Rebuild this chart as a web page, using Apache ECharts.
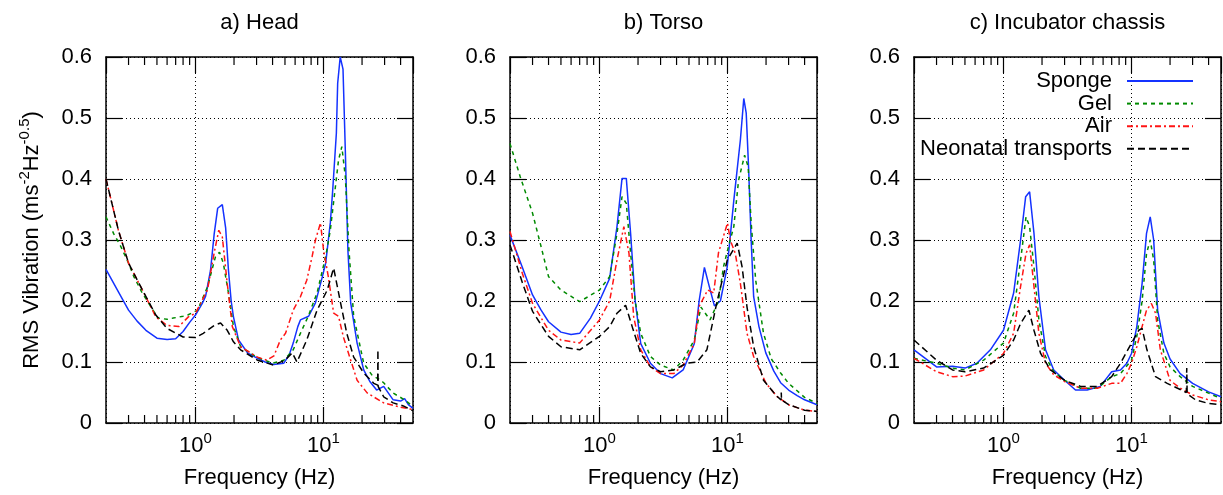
<!DOCTYPE html>
<html>
<head>
<meta charset="utf-8">
<script src="https://cdn.jsdelivr.net/npm/echarts@6/dist/echarts.min.js"></script>
<style>
html,body{margin:0;padding:0;background:#fff;}
#chart{width:1223px;height:495px;}
</style>
</head>
<body>
<div id="chart"></div>
<script>
// ---------- data ----------
const panelTitles = ['a) Head', 'b) Torso', 'c) Incubator chassis'];
const seriesNames = ['Sponge', 'Gel', 'Air', 'Neonatal transports'];
const minorTicks = [0.3,0.4,0.5,0.6,0.7,0.8,0.9,2,3,4,5,6,7,8,9,20,30,40];
const yTicks = [0, 0.1, 0.2, 0.3, 0.4, 0.5, 0.6];

// a) Head  [frequency Hz, RMS vibration]
const headSponge = [[0.2,0.252],[0.25,0.215],[0.3,0.185],[0.35,0.167],[0.41,0.152],[0.5,0.139],[0.6,0.137],[0.7,0.138],[0.8,0.15],[0.9,0.165],[1.0,0.177],[1.13,0.196],[1.2,0.208],[1.31,0.25],[1.4,0.31],[1.49,0.352],[1.62,0.358],[1.72,0.32],[1.81,0.25],[1.9,0.2],[1.98,0.174],[2.17,0.136],[2.55,0.115],[3.05,0.106],[3.5,0.1],[4.07,0.096],[4.9,0.098],[5.4,0.112],[5.8,0.131],[6.3,0.158],[6.6,0.169],[7.65,0.175],[8.65,0.197],[9.8,0.24],[10.4,0.262],[11.3,0.328],[11.8,0.382],[12.6,0.475],[12.9,0.557],[13.5,0.6],[14.2,0.58],[14.8,0.447],[15.5,0.284],[16.3,0.197],[18.3,0.131],[20.6,0.087],[23,0.068],[26,0.054],[29.5,0.06],[35,0.038],[40,0.036],[43,0.04],[46,0.03],[50,0.024]];
const headGel = [[0.2,0.338],[0.23,0.31],[0.26,0.29],[0.3,0.262],[0.33,0.24],[0.38,0.215],[0.42,0.2],[0.51,0.172],[0.6,0.17],[0.67,0.172],[0.8,0.175],[0.87,0.177],[1.04,0.185],[1.24,0.223],[1.43,0.272],[1.54,0.28],[1.65,0.262],[1.81,0.213],[1.98,0.158],[2.25,0.125],[3.0,0.108],[4.0,0.098],[4.9,0.103],[5.8,0.12],[6.6,0.147],[7.6,0.175],[8.9,0.213],[10.4,0.273],[11.3,0.316],[12.3,0.382],[13.1,0.431],[13.9,0.453],[14.4,0.45],[14.8,0.404],[15.8,0.284],[17.2,0.175],[20.6,0.098],[24,0.078],[27,0.072],[29.5,0.066],[35,0.049],[43,0.038],[50,0.027]];
const headAir = [[0.2,0.4],[0.25,0.316],[0.3,0.262],[0.385,0.218],[0.49,0.174],[0.6,0.16],[0.74,0.158],[0.88,0.174],[1.0,0.18],[1.24,0.218],[1.4,0.279],[1.52,0.316],[1.62,0.305],[1.77,0.229],[1.94,0.158],[2.25,0.125],[3.05,0.108],[3.6,0.103],[4.1,0.11],[4.6,0.136],[5.05,0.147],[5.8,0.185],[6.6,0.207],[7.4,0.234],[8.15,0.273],[8.65,0.3],[9.47,0.328],[10,0.284],[10.9,0.24],[12,0.18],[13.1,0.175],[14.3,0.141],[16.3,0.103],[18.3,0.07],[22,0.049],[29.5,0.033],[40,0.026],[50,0.022]];
const headTransport = [[0.2,0.4],[0.25,0.316],[0.3,0.262],[0.385,0.218],[0.49,0.177],[0.6,0.155],[0.8,0.141],[1.0,0.14],[1.15,0.147],[1.4,0.16],[1.57,0.164],[1.77,0.152],[1.98,0.133],[2.25,0.12],[3.05,0.103],[4.07,0.095],[5.0,0.103],[5.7,0.115],[6.2,0.1],[7.4,0.136],[8.9,0.185],[10.7,0.218],[12,0.254],[13.5,0.2],[15.2,0.147],[17.2,0.108],[20.6,0.082],[24.7,0.065],[26.5,0.062],[26.6,0.12],[26.7,0.06],[29.5,0.043],[35,0.033],[42,0.028],[50,0.02]];

// b) Torso
const torsoSponge = [[0.2,0.308],[0.25,0.255],[0.3,0.21],[0.35,0.185],[0.4,0.166],[0.5,0.149],[0.6,0.145],[0.7,0.147],[0.85,0.172],[1.0,0.2],[1.2,0.237],[1.37,0.322],[1.5,0.401],[1.62,0.401],[1.75,0.311],[1.9,0.2],[2.1,0.13],[2.5,0.098],[3.0,0.081],[3.7,0.074],[4.5,0.087],[5.5,0.13],[6.0,0.2],[6.6,0.255],[7.2,0.224],[7.9,0.192],[8.8,0.2],[9.95,0.256],[11.2,0.365],[12.6,0.464],[13.4,0.532],[14.0,0.508],[14.6,0.42],[15.3,0.3],[16,0.207],[17.6,0.158],[19.9,0.115],[23,0.085],[26,0.066],[30,0.054],[35,0.045],[40,0.038],[50,0.03]];
const torsoGel = [[0.2,0.458],[0.24,0.404],[0.3,0.344],[0.35,0.289],[0.4,0.24],[0.5,0.218],[0.7,0.199],[1.0,0.218],[1.2,0.24],[1.37,0.311],[1.5,0.371],[1.62,0.36],[1.75,0.278],[1.9,0.2],[2.1,0.147],[2.5,0.109],[3.0,0.095],[3.8,0.087],[4.5,0.103],[5.5,0.136],[6.2,0.19],[7.3,0.169],[8.5,0.2],[9.3,0.256],[10,0.283],[11.2,0.322],[12.2,0.398],[13.6,0.439],[14.5,0.42],[15.3,0.328],[16.6,0.234],[19.1,0.147],[22,0.105],[26,0.082],[30,0.065],[40,0.042],[50,0.032]];
const torsoAir = [[0.2,0.314],[0.25,0.245],[0.3,0.196],[0.4,0.152],[0.5,0.136],[0.7,0.131],[1.0,0.169],[1.2,0.2],[1.37,0.267],[1.55,0.322],[1.7,0.278],[1.85,0.174],[2.1,0.12],[2.5,0.092],[3.0,0.081],[3.8,0.081],[4.5,0.095],[5.5,0.13],[6.0,0.191],[7.0,0.218],[7.8,0.213],[8.5,0.279],[10,0.328],[10.5,0.3],[11.5,0.278],[12.6,0.229],[14.2,0.147],[16,0.109],[20,0.065],[24.5,0.043],[30,0.03],[40,0.021],[50,0.019]];
const torsoTransport = [[0.2,0.292],[0.25,0.23],[0.3,0.183],[0.4,0.142],[0.5,0.125],[0.7,0.12],[1.0,0.142],[1.2,0.158],[1.37,0.18],[1.6,0.193],[1.8,0.158],[2.1,0.114],[2.5,0.092],[3.0,0.084],[3.8,0.087],[4.8,0.098],[5.8,0.1],[6.9,0.12],[8.3,0.2],[9.95,0.267],[11.9,0.295],[13,0.256],[14.2,0.19],[16,0.125],[19.1,0.07],[24,0.045],[26.2,0.038],[26.3,0.05],[26.4,0.038],[30,0.03],[40,0.021],[50,0.019]];

// c) Incubator chassis
const chassisSponge = [[0.2,0.12],[0.3,0.092],[0.4,0.093],[0.5,0.09],[0.62,0.098],[0.79,0.12],[1.0,0.152],[1.2,0.213],[1.36,0.3],[1.49,0.371],[1.6,0.379],[1.73,0.311],[1.89,0.207],[2.13,0.12],[2.47,0.087],[3.0,0.07],[3.65,0.054],[4.5,0.054],[5.7,0.06],[7.0,0.084],[8.2,0.087],[9.2,0.098],[10,0.114],[11,0.158],[12.1,0.229],[13.1,0.311],[14,0.338],[14.9,0.3],[16,0.185],[17.9,0.131],[20,0.105],[24,0.081],[30,0.065],[40,0.051],[50,0.043]];
const chassisGel = [[0.2,0.106],[0.3,0.098],[0.4,0.09],[0.5,0.087],[0.7,0.103],[1.0,0.131],[1.2,0.18],[1.36,0.267],[1.5,0.338],[1.6,0.322],[1.73,0.256],[1.89,0.169],[2.13,0.109],[2.47,0.084],[3.0,0.07],[4.0,0.057],[5.4,0.057],[7.0,0.076],[8.2,0.081],[10,0.103],[11,0.142],[12.1,0.2],[13.1,0.278],[14,0.3],[14.9,0.267],[16,0.169],[17.9,0.114],[20,0.092],[24,0.076],[30,0.06],[40,0.049],[50,0.04]];
const chassisAir = [[0.2,0.106],[0.3,0.084],[0.4,0.076],[0.5,0.077],[0.7,0.087],[1.0,0.114],[1.2,0.147],[1.36,0.224],[1.5,0.278],[1.6,0.292],[1.73,0.224],[1.89,0.147],[2.13,0.098],[2.47,0.079],[3.0,0.068],[4.0,0.057],[5.4,0.057],[7.0,0.065],[8.2,0.065],[9.2,0.081],[10,0.098],[11,0.125],[12.1,0.158],[13.1,0.185],[14.3,0.196],[15.4,0.18],[16.8,0.12],[20,0.07],[24,0.057],[30,0.046],[40,0.038],[50,0.035]];
const chassisTransport = [[0.2,0.136],[0.3,0.103],[0.4,0.087],[0.5,0.084],[0.7,0.09],[1.0,0.111],[1.2,0.136],[1.36,0.163],[1.58,0.185],[1.73,0.152],[1.95,0.114],[2.33,0.087],[3.0,0.07],[4.0,0.06],[5.4,0.06],[7.0,0.076],[8.2,0.098],[10,0.131],[11.4,0.152],[12.1,0.155],[13.2,0.12],[15.4,0.076],[19,0.065],[24.5,0.054],[26.8,0.05],[27,0.09],[27.2,0.048],[31.6,0.038],[40,0.032],[50,0.03]];

const panelData = [
  [headSponge, headGel, headAir, headTransport],
  [torsoSponge, torsoGel, torsoAir, torsoTransport],
  [chassisSponge, chassisGel, chassisAir, chassisTransport]
];

// ---------- styles ----------
const FONT = 'Liberation Sans, Arial, Helvetica, sans-serif';
const colors = ['#1432ff', '#008a00', '#ff1414', '#000000'];
const dashes = ['solid', [4, 4], [6, 3, 2, 3], [7, 4]];
const gridLefts = [106, 510, 914];
const gridW = 307, gridTop = 57, gridH = 366;

function isPow10(v) {
  const l = Math.log10(v);
  return Math.abs(l - Math.round(l)) < 1e-6;
}

const option = {
  animation: false,
  backgroundColor: '#fff',
  title: [], grid: [], xAxis: [], yAxis: [], series: [],
  legend: {
    data: seriesNames,
    orient: 'vertical',
    align: 'right',
    right: 29,
    top: 70,
    padding: 0,
    itemGap: 0.6,
    itemWidth: 66,
    itemHeight: 12,
    selectedMode: false,
    itemStyle: { opacity: 0, borderWidth: 0 },
    textStyle: { fontSize: 22, fontFamily: FONT, color: '#000', lineHeight: 22, padding: [0, 10, 0, 0] }
  }
};

const axisLineStyle = { color: '#000', width: 1.5 };
const tickStyle = { color: '#000', width: 1.2 };
const gridLineStyle = { color: '#000', width: 1, type: [1, 3] };

for (let i = 0; i < 3; i++) {
  option.title.push({
    text: panelTitles[i],
    left: gridLefts[i] + gridW / 2,
    top: 12,
    textAlign: 'center',
    padding: 0,
    textStyle: { fontSize: 22, fontWeight: 'normal', fontFamily: FONT, color: '#000' }
  });
  option.grid.push({ left: gridLefts[i], top: gridTop, width: gridW, height: gridH });
  // bottom x axis
  option.xAxis.push({
    type: 'log', logBase: 10, min: 0.2, max: 50, gridIndex: i, position: 'bottom',
    axisLine: { show: true, onZero: false, lineStyle: axisLineStyle },
    axisTick: { show: true, inside: true, length: 16, lineStyle: tickStyle },
    axisLabel: {
      margin: 8, showMinLabel: false, showMaxLabel: false,
      formatter: function (v) {
        if (!isPow10(v)) return '';
        return '{b|10}{s|' + Math.round(Math.log10(v)) + '}';
      },
      rich: {
        b: { fontSize: 22, fontFamily: FONT, color: '#000', lineHeight: 26, padding: [4, 0, 0, 0] },
        s: { fontSize: 15, fontFamily: FONT, color: '#000', lineHeight: 15, verticalAlign: 'top' }
      }
    },
    splitLine: { show: true, lineStyle: gridLineStyle },
    name: 'Frequency (Hz)', nameLocation: 'middle', nameGap: 44,
    nameTextStyle: { fontSize: 22, fontFamily: FONT, color: '#000' }
  });
  // top x axis (mirror ticks)
  option.xAxis.push({
    type: 'log', logBase: 10, min: 0.2, max: 50, gridIndex: i, position: 'top',
    axisLine: { show: true, onZero: false, lineStyle: axisLineStyle },
    axisTick: { show: true, inside: true, length: 16, lineStyle: tickStyle },
    axisLabel: { show: false }, splitLine: { show: false }
  });
  // left y axis
  const yLeft = {
    type: 'value', min: 0, max: 0.6, interval: 0.1, gridIndex: i, position: 'left',
    axisLine: { show: true, onZero: false, lineStyle: axisLineStyle },
    axisTick: { show: true, inside: true, length: 16, lineStyle: tickStyle },
    axisLabel: { margin: 14, fontSize: 22, fontFamily: FONT, color: '#000',
      formatter: function (v) { return v === 0 ? '0' : v.toFixed(1); } },
    splitLine: { show: true, lineStyle: gridLineStyle }
  };
  if (i === 0) {
    yLeft.name = '{n|RMS Vibration (ms}{s|-2}{n|Hz}{s|-0.5}{n|)}';
    yLeft.nameLocation = 'middle';
    yLeft.nameGap = 63;
    yLeft.nameRotate = 90;
    yLeft.nameTextStyle = {
      rich: {
        n: { fontSize: 22, fontFamily: FONT, color: '#000', lineHeight: 26, padding: [4, 0, 0, 0] },
        s: { fontSize: 15, fontFamily: FONT, color: '#000', lineHeight: 15, verticalAlign: 'top' }
      }
    };
  }
  option.yAxis.push(yLeft);
  // right y axis (mirror ticks)
  option.yAxis.push({
    type: 'value', min: 0, max: 0.6, interval: 0.1, gridIndex: i, position: 'right',
    axisLine: { show: true, onZero: false, lineStyle: axisLineStyle },
    axisTick: { show: true, inside: true, length: 16, lineStyle: tickStyle },
    axisLabel: { show: false }, splitLine: { show: false }
  });

  // data series
  for (let k = 0; k < 4; k++) {
    option.series.push({
      type: 'line', name: seriesNames[k],
      xAxisIndex: 2 * i, yAxisIndex: 2 * i,
      data: panelData[i][k],
      symbol: 'none', showSymbol: false,
      lineStyle: { color: colors[k], width: 1.5, type: dashes[k] },
      itemStyle: { color: colors[k] },
      z: 3 + k
    });
  }
  // minor log ticks (bottom and top), positioned through the axis scale
  option.series.push({
    type: 'custom', silent: true,
    xAxisIndex: 2 * i, yAxisIndex: 2 * i,
    data: minorTicks.map(function (f) { return [f, 0]; }),
    renderItem: function (params, api) {
      const f = api.value(0);
      const b = api.coord([f, 0]);
      const t = api.coord([f, 0.6]);
      return {
        type: 'group',
        children: [
          { type: 'line', shape: { x1: b[0], y1: b[1], x2: b[0], y2: b[1] - 8 }, style: { stroke: '#000', lineWidth: 1.2 } },
          { type: 'line', shape: { x1: t[0], y1: t[1], x2: t[0], y2: t[1] + 8 }, style: { stroke: '#000', lineWidth: 1.2 } }
        ]
      };
    },
    z: 10
  });
}

const chart = echarts.init(document.getElementById('chart'), null, { renderer: 'canvas' });
chart.setOption(option);
</script>
</body>
</html>
